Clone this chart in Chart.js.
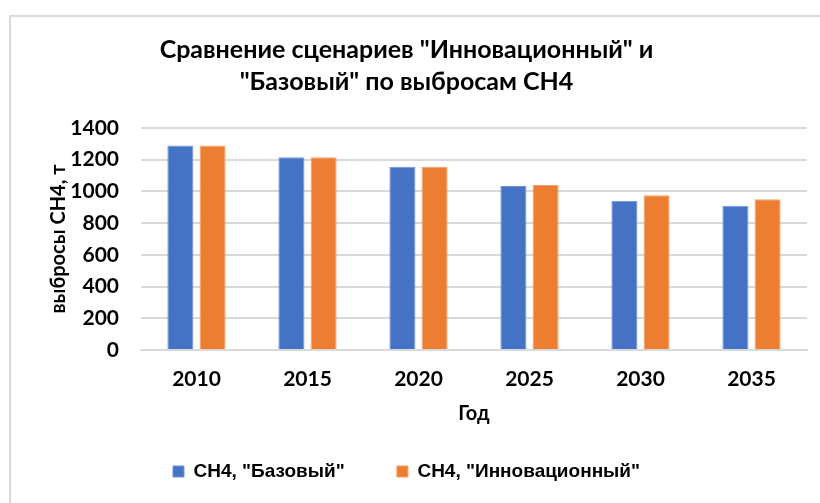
<!DOCTYPE html>
<html>
<head>
<meta charset="utf-8">
<script src="https://cdn.jsdelivr.net/npm/chart.js@4"></script>
<style>
  html, body { margin: 0; padding: 0; background: #fff; }
  #wrap { width: 820px; height: 503px; position: relative; }
</style>
</head>
<body>
<div id="wrap"><canvas id="ch4Chart" width="820" height="503"></canvas></div>
<script>
// years on the x axis
var years = ['2010', '2015', '2020', '2025', '2030', '2035'];

// CH4 emissions, t
var baseScenario = [1290, 1215, 1155, 1035, 942, 910];
var innovScenario = [1290, 1215, 1155, 1040, 976, 951];

var seriesNames = ['CH4, "Базовый"', 'CH4, "Инновационный"'];
var titleLines = ['Сравнение сценариев "Инновационный" и', '"Базовый" по выбросам CH4'];

var mainFont = "Lato, Carlito, 'Open Sans', sans-serif";

// white background plus the light frame round the chart
var framePlugin = {
  id: 'frame',
  beforeDraw: function (chart) {
    var ctx = chart.ctx;
    ctx.save();
    ctx.fillStyle = '#ffffff';
    ctx.fillRect(0, 0, chart.width, chart.height);
    ctx.strokeStyle = '#d9d9d9';
    ctx.lineWidth = 2;
    ctx.beginPath();
    ctx.moveTo(10, chart.height);
    ctx.lineTo(10, 16);
    ctx.lineTo(chart.width, 16);
    ctx.stroke();
    ctx.restore();
  }
};

var ctx = document.getElementById('ch4Chart').getContext('2d');

var ch4Chart = new Chart(ctx, {
  type: 'bar',
  data: {
    labels: years,
    datasets: [{
      label: seriesNames[0],
      data: baseScenario,
      backgroundColor: '#4472C4',
      borderColor: '#6f93d6',
      borderWidth: 1,
      categoryPercentage: 0.58,
      barPercentage: 0.81
    }, {
      label: seriesNames[1],
      data: innovScenario,
      backgroundColor: '#ED7D31',
      borderColor: '#f3a06a',
      borderWidth: 1,
      categoryPercentage: 0.58,
      barPercentage: 0.81
    }]
  },
  options: {
    responsive: false,
    animation: false,
    layout: {
      padding: { left: 6, right: 13, top: 0, bottom: 12 }
    },
    plugins: {
      title: {
        display: true,
        text: titleLines,
        color: '#000',
        font: { family: mainFont, size: 25, weight: 'bold', lineHeight: 1.28 },
        padding: { top: 34, bottom: 30 }
      },
      legend: {
        position: 'bottom',
        labels: {
          color: '#000',
          boxWidth: 11,
          boxHeight: 11,
          padding: 10,
          font: { family: "'Liberation Sans', Arial, sans-serif", size: 19, weight: 'bold' },
          generateLabels: function (chart) {
            var items = Chart.defaults.plugins.legend.labels.generateLabels(chart);
            // the first entry is followed by a wide gap in the original
            items[0].text = items[0].text + '\u00a0\u00a0\u00a0\u00a0\u00a0\u00a0\u00a0\u00a0';
            return items;
          }
        }
      },
      tooltip: { enabled: false }
    },
    scales: {
      x: {
        afterFit: function (scale) { scale.height = 102; },
        grid: { display: false, drawTicks: false },
        border: { color: '#d9d9d9', width: 2 },
        ticks: {
          color: '#000',
          padding: 17,
          font: { family: mainFont, size: 21, weight: 'bold' }
        },
        title: {
          display: true,
          text: 'Год',
          color: '#000',
          padding: { top: 0, bottom: 26 },
          font: { family: mainFont, size: 20, weight: 'bold' }
        }
      },
      y: {
        min: 0,
        max: 1400,
        afterFit: function (scale) { scale.width = 135; },
        ticks: {
          stepSize: 200,
          autoSkip: false,
          color: '#000',
          padding: 22,
          font: { family: mainFont, size: 21, weight: 'bold' },
          callback: function (value) { return String(value); }
        },
        grid: { color: '#d9d9d9', lineWidth: 2, drawTicks: false },
        border: { display: false },
        title: {
          display: true,
          text: 'выбросы CH4, т',
          color: '#000',
          padding: { top: 41, bottom: 0 },
          font: { family: mainFont, size: 20, weight: 'bold' }
        }
      }
    }
  },
  plugins: [framePlugin]
});
</script>
</body>
</html>
